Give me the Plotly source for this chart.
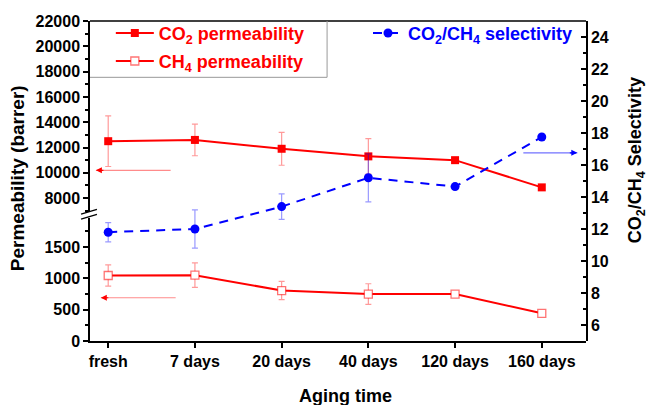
import plotly.graph_objects as go

# ---- data ----
categories = ["fresh", "7 days", "20 days", "40 days", "120 days", "160 days"]
co2_perm = [12500, 12600, 11900, 11300, 11000, 8850]
co2_err = [2000, 1250, 1300, 1400, 0, 0]
ch4_perm = [1045, 1050, 805, 748, 748, 442]
ch4_err = [170, 195, 145, 165, 0, 0]
selectivity = [11.8, 12.0, 13.4, 15.2, 14.65, 17.75]
sel_err = [0.6, 1.2, 0.8, 1.5, 0, 0]

upper_ticks = [8000, 10000, 12000, 14000, 16000, 18000, 20000, 22000]
lower_ticks = [0, 500, 1000, 1500]
right_ticks = [6, 8, 10, 12, 14, 16, 18, 20, 22, 24]

FONT = "Liberation Sans, Arial, sans-serif"
RED = "#ff0000"
BLUE = "#0000ff"
xpos = list(range(len(categories)))

fig = go.Figure()

fig.add_trace(go.Scatter(
    x=xpos, y=co2_perm, xaxis="x", yaxis="y2", mode="lines+markers",
    name="CO<sub>2</sub> permeability", legend="legend",
    line=dict(color=RED, width=2),
    marker=dict(symbol="square", size=8, color=RED),
    error_y=dict(type="data", array=co2_err, color="rgba(255,0,0,0.4)", thickness=1.2, width=3),
))
fig.add_trace(go.Scatter(
    x=xpos, y=ch4_perm, xaxis="x", yaxis="y", mode="lines+markers",
    name="CH<sub>4</sub> permeability", legend="legend3",
    line=dict(color=RED, width=2),
    marker=dict(symbol="square", size=8, color="white", line=dict(color="rgba(255,0,0,0.55)", width=1.3)),
    error_y=dict(type="data", array=ch4_err, color="rgba(255,0,0,0.4)", thickness=1.2, width=3),
))
fig.add_trace(go.Scatter(
    x=xpos, y=selectivity, xaxis="x", yaxis="y3", mode="lines+markers",
    name="CO<sub>2</sub>/CH<sub>4</sub> selectivity", legend="legend2",
    line=dict(color=BLUE, width=2, dash="9px,7px"),
    marker=dict(symbol="circle", size=9, color=BLUE),
    error_y=dict(type="data", array=sel_err, color="rgba(0,0,255,0.4)", thickness=1.2, width=3),
))

tickfont = dict(family=FONT, size=16, color="black", weight="bold")
axis_common = dict(showgrid=False, zeroline=False, showline=True, linecolor="black",
                   linewidth=1.5, tickfont=tickfont, tickcolor="black", tickwidth=1.5)

legfont = dict(family=FONT, size=18, weight="bold")

fig.update_layout(
    width=647, height=405,
    margin=dict(l=90, r=61, t=21, b=64),
    paper_bgcolor="white", plot_bgcolor="rgba(0,0,0,0)",
    font=dict(family=FONT, color="black"),
    xaxis=dict(domain=[0, 1], anchor="y", range=[-0.21, 5.51], tickvals=xpos, ticktext=categories,
               ticks="outside", ticklen=5, **axis_common),
    yaxis=dict(domain=[0, 0.384], anchor="x", range=[0, 1960], tickvals=lower_ticks, tickformat="d",
               ticks="outside", ticklen=5,
               minor=dict(dtick=250, tick0=0, ticks="outside", ticklen=3, tickcolor="black", tickwidth=1.5),
               **axis_common),
    yaxis2=dict(domain=[0.403, 1], anchor="x", range=[6900, 22000], tickvals=upper_ticks, tickformat="d",
                ticks="outside", ticklen=5,
                minor=dict(dtick=1000, tick0=0, ticks="outside", ticklen=3, tickcolor="black", tickwidth=1.5),
                **axis_common),
    yaxis3=dict(domain=[0, 1], anchor="x", side="right", range=[5, 25], tickvals=right_ticks,
                ticks="inside", ticklen=5,
                minor=dict(dtick=1, tick0=0, ticks="inside", ticklen=3, tickcolor="black", tickwidth=1.5),
                **axis_common),
    showlegend=True,
    legend=dict(x=0.042, y=0.9616, xanchor="left", yanchor="middle", bgcolor="rgba(0,0,0,0)",
                itemwidth=38, font=dict(color=RED, **legfont)),
    legend3=dict(x=0.042, y=0.874, xanchor="left", yanchor="middle", bgcolor="rgba(0,0,0,0)",
                 itemwidth=38, font=dict(color=RED, **legfont)),
    legend2=dict(x=0.5605, y=0.9616, xanchor="left", yanchor="middle", bgcolor="rgba(0,0,0,0)",
                 font=dict(color=BLUE, **legfont)),
)

# frame / legend box / axis break
shapes = [
    dict(type="line", xref="paper", yref="paper", x0=0, x1=1, y0=1, y1=1, line=dict(color="black", width=1.5)),
    dict(type="line", xref="paper", yref="paper", x0=0.478, x1=0.478, y0=0.824, y1=1, line=dict(color="#999999", width=1)),
    dict(type="line", xref="paper", yref="paper", x0=0, x1=0.478, y0=0.824, y1=0.824, line=dict(color="#999999", width=1)),
    dict(type="line", xref="paper", yref="paper", x0=-0.018, x1=0.014, y0=0.3965, y1=0.411, line=dict(color="black", width=1.3)),
    dict(type="line", xref="paper", yref="paper", x0=-0.018, x1=0.014, y0=0.381, y1=0.3956, line=dict(color="black", width=1.3)),
]
fig.update_layout(shapes=shapes)

ann = []
# arrows (light shaft + solid head)
for hx, tx, yv, yr, shaft, head in [
    (-0.142, 0.737, 10200, "y2", "rgba(255,0,0,0.45)", RED),
    (-0.085, 0.795, 690, "y", "rgba(255,0,0,0.45)", RED),
    (5.41, 4.77, 16.76, "y3", "rgba(0,0,255,0.55)", BLUE),
]:
    ann.append(dict(x=hx, y=yv, xref="x", yref=yr, ax=tx, ay=yv, axref="x", ayref=yr,
                    showarrow=True, arrowhead=0, arrowwidth=1.2, arrowcolor=shaft, text=""))
    sign = 1 if tx > hx else -1
    ann.append(dict(x=hx, y=yv, xref="x", yref=yr, ax=sign * 9, ay=0,
                    showarrow=True, arrowhead=2, arrowsize=1, arrowwidth=1.2, arrowcolor=head, text=""))
# titles
ann.append(dict(x=-0.147, y=0.509, xref="paper", yref="paper", text="Permeability (barrer)", textangle=-90,
                showarrow=False, font=dict(family=FONT, size=19, color="black", weight="bold"),
                xanchor="center", yanchor="middle"))
ann.append(dict(x=1.1008, y=0.565, xref="paper", yref="paper", text="CO<sub>2</sub>/CH<sub>4</sub> Selectivity",
                textangle=-90, showarrow=False, font=dict(family=FONT, size=18, color="black", weight="bold"),
                xanchor="center", yanchor="middle"))
ann.append(dict(x=0.515, y=-0.172, xref="paper", yref="paper", text="Aging time",
                showarrow=False, font=dict(family=FONT, size=18, color="black", weight="bold"),
                xanchor="center", yanchor="middle"))
fig.update_layout(annotations=ann)

fig.write_html("out.html")
